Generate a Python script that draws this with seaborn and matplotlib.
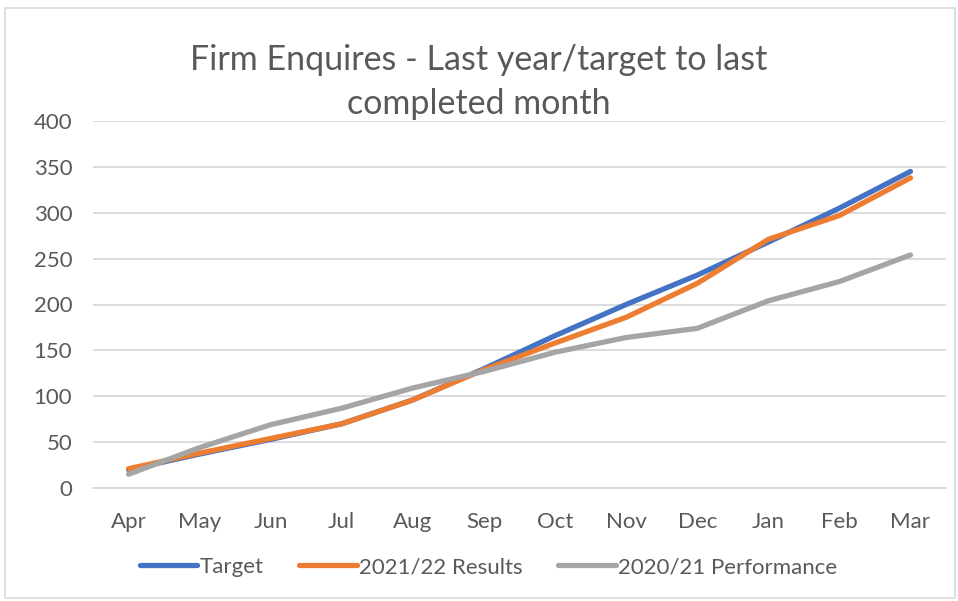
import matplotlib
matplotlib.use("Agg")
import matplotlib.pyplot as plt
import seaborn as sns
import pandas as pd
from matplotlib.patches import Rectangle
from matplotlib.lines import Line2D

months = ["Apr", "May", "Jun", "Jul", "Aug", "Sep", "Oct", "Nov", "Dec", "Jan", "Feb", "Mar"]
target = [20, 37, 53, 70, 96, 130, 166, 200, 232, 268, 305, 345]
results_2122 = [21, 38, 54, 70, 96, 129, 158, 186, 223, 271, 297, 338]
perf_2021 = [15, 44, 69, 87, 109, 127, 148, 164, 174, 204, 225, 254]
series_names = ["Target", "2021/22 Results", "2020/21 Performance"]
yticks = [0, 50, 100, 150, 200, 250, 300, 350, 400]

sns.set_theme(style="white")
plt.rcParams['font.family'] = ['Lato', 'DejaVu Sans']

rows = []
for name, vals in zip(series_names, [target, results_2122, perf_2021]):
    for i, (m, v) in enumerate(zip(months, vals)):
        rows.append({"idx": i, "Month": m, "Value": v, "Series": name})
df = pd.DataFrame(rows)

palette = {"Target": "#4472C4", "2021/22 Results": "#ED7D31", "2020/21 Performance": "#A5A5A5"}

fig = plt.figure(figsize=(9.58, 6.01), dpi=100)
ax = fig.add_axes([93/958, 1-488/601, (946-93)/958, (488-121)/601])

sns.lineplot(data=df, x="idx", y="Value", hue="Series", hue_order=series_names,
             palette=palette, linewidth=3.8, ax=ax, legend=False, sort=False)
for l in ax.lines:
    l.set_solid_capstyle("round")

ax.set_xlim(-0.5, 11.5)
ax.set_ylim(0, 400)
ax.set_yticks(yticks)
ax.set_yticklabels([str(t) for t in yticks])
ax.set_xticks(range(len(months)))
ax.set_xticklabels(months)
ax.set_xlabel("")
ax.set_ylabel("")
ax.grid(axis="y", color="#d9d9d9", linewidth=1.3)
ax.set_axisbelow(True)
for s in ["top", "right", "left"]:
    ax.spines[s].set_visible(False)
ax.spines["bottom"].set_color("#d9d9d9")
ax.spines["bottom"].set_linewidth(1.3)
ax.tick_params(axis="y", length=0, pad=15, labelsize=16, labelcolor="#595959")
ax.tick_params(axis="x", length=0, pad=17, labelsize=16, labelcolor="#595959")
ax.set_xticks([i - 0.5 for i in range(13)], minor=True)
ax.tick_params(axis="x", which="minor", length=6, color="#d9d9d9", width=1.3, direction="out")

fig.text(0.5, 1-82/601, "Firm Enquires - Last year/target to last\ncompleted month",
         ha="center", va="center", fontsize=24.5, color="#595959", linespacing=1.45)

handles = [Line2D([0], [0], color=palette[n], linewidth=3.8, solid_capstyle="round") for n in series_names]
fig.legend(handles, series_names, loc="center", bbox_to_anchor=(0.51, 1-567/601), ncol=3,
           frameon=False, fontsize=16, labelcolor="#595959", handlelength=2.6,
           handletextpad=0.1, columnspacing=1.6)

fig.patches.append(Rectangle((5/958, 1-598/601), 950/958, 590/601, transform=fig.transFigure,
                             fill=False, edgecolor="#d9d9d9", linewidth=1.2))

fig.savefig("out.png", dpi=100, facecolor="white")
